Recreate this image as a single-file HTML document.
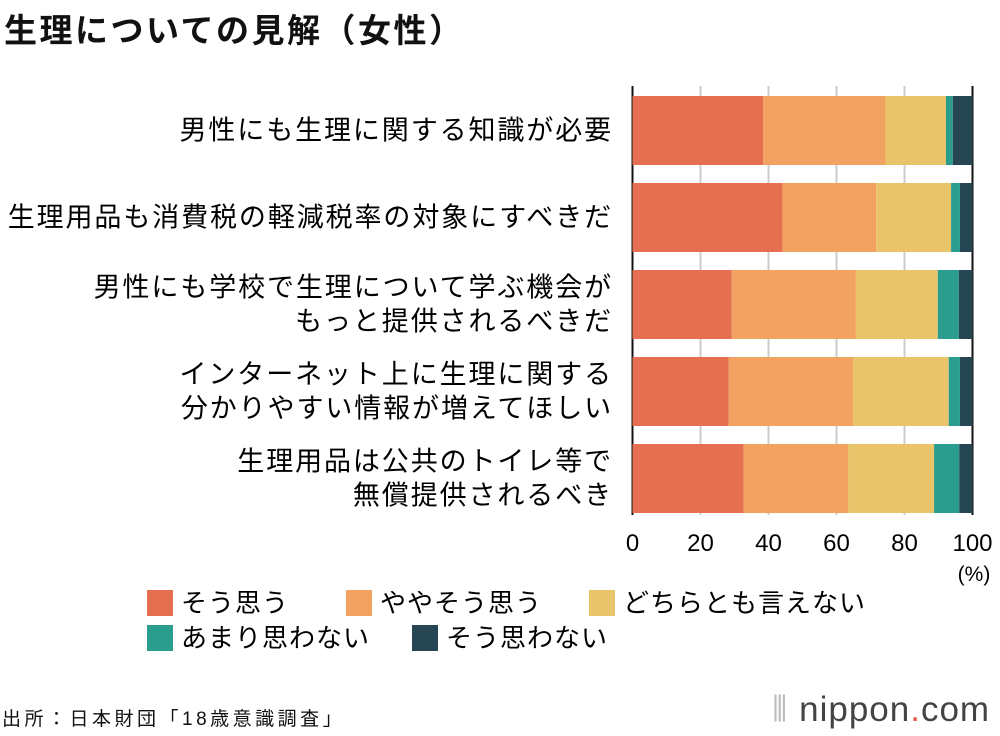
<!DOCTYPE html>
<html><head><meta charset="utf-8"><style>
body{margin:0;width:1000px;height:736px;background:#fff;font-family:"Liberation Sans","Noto Sans CJK JP",sans-serif;overflow:hidden;position:relative;color:#111}
.t{position:absolute;white-space:nowrap}
</style></head><body>
<div class="t" style="left:4px;top:4px;font-size:33px;font-weight:bold;letter-spacing:2.5px">生理についての見解（女性）</div>
<svg id="c" width="1000" height="736" style="position:absolute;left:0;top:0"></svg>
<div class="t" style="left:2px;top:704px;font-size:19px;letter-spacing:3.5px">出所：日本財団「18歳意識調査」</div>
<div class="t" style="left:772px;top:690px;font-size:35px;color:#444;letter-spacing:1px"><span style="color:#bbb">⦀</span> nippon<span style="color:#e5604a">.</span>com</div>
<script>
const categories=[["男性にも生理に関する知識が必要"],["生理用品も消費税の軽減税率の対象にすべきだ"],["男性にも学校で生理について学ぶ機会が","もっと提供されるべきだ"],["インターネット上に生理に関する","分かりやすい情報が増えてほしい"],["生理用品は公共のトイレ等で","無償提供されるべき"]];
const seriesNames=["そう思う","ややそう思う","どちらとも言えない","あまり思わない","そう思わない"];
const s1=[38.4,44.1,29.2,28.3,32.7];
const s2=[36.0,27.6,36.5,36.6,30.7];
const s3=[17.8,22.0,24.1,28.1,25.3];
const s4=[2.0,2.6,6.2,3.3,7.4];
const s5=[5.8,3.7,4.0,3.7,3.9];
const ticks=[0,20,40,60,80,100];
const colors=["#e66f51","#f2a261","#e9c46b","#2a9d8f","#264653"];
const series=[s1,s2,s3,s4,s5];
const svg=document.getElementById('c');const NS="http://www.w3.org/2000/svg";
const X0=632.5,X1=972.5;const x=v=>X0+(X1-X0)*v/100;
const y=i=>96+i*87;const BH=69;
function mk(t,a){const e=document.createElementNS(NS,t);for(const k in a)e.setAttribute(k,a[k]);svg.appendChild(e);return e;}
ticks.forEach(t=>{
 const g=mk('line',{x1:x(t),x2:x(t),y1:86,y2:515,stroke:t==0||t==100?'#111':'#ccc','stroke-width':2});
 
 const l=mk('text',{x:x(t),y:551,'text-anchor':'middle','font-size':24});l.textContent=t;
 
});
const pu=mk('text',{x:974,y:581,'text-anchor':'middle','font-size':21});pu.textContent='(%)';

categories.forEach((c,i)=>{
 let acc=0;
 series.forEach((s,k)=>{
  const r=mk('rect',{x:x(acc),y:y(i),width:x(acc+s[i])-x(acc),height:BH,fill:colors[k]});
  
  acc+=s[i];
 });
 const cy=y(i)+BH/2;
 c.forEach((line,j)=>{
  const t=mk('text',{x:613,y:cy+9+(j-(c.length-1)/2)*34,'text-anchor':'end','font-size':27,'letter-spacing':'1.9px'});t.textContent=line;
  
 });
});
const lp=[[147,603],[346,603],[589,603],[147,638],[412,638]];
seriesNames.forEach((n,k)=>{
 const r=mk('rect',{x:lp[k][0],y:lp[k][1]-13,width:26,height:26,fill:colors[k]});
 
 const t=mk('text',{x:lp[k][0]+34,y:lp[k][1]+9,'font-size':26,'letter-spacing':'1px'});t.textContent=n;
 
});
</script>
</body></html>
